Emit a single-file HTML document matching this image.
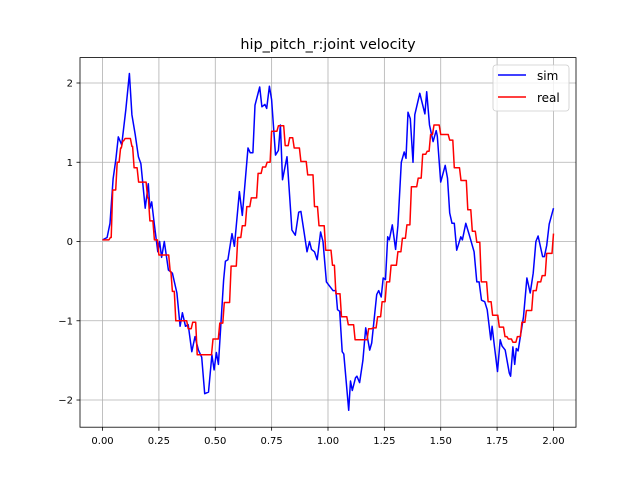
<!DOCTYPE html>
<html><head><meta charset="utf-8"><style>
body{margin:0;background:#fff;}
svg{display:block;font-family:"DejaVu Sans","Liberation Sans",sans-serif;}
</style></head><body>
<svg id="chart" width="640" height="480" viewBox="0 0 640 480" xmlns="http://www.w3.org/2000/svg">
<rect x="0" y="0" width="640" height="480" fill="#fff"/>
<text x="328" y="49" text-anchor="middle" font-size="14.4">hip_pitch_r:joint velocity</text>
<g id="grid"></g>
<g id="series"></g>
<rect x="80" y="57.6" width="496" height="369.6" fill="none" stroke="#000" stroke-width="0.8"/>
<g id="ticks"></g>
<g>
<rect x="493" y="65" width="76" height="46" rx="3" fill="#fff" fill-opacity="0.8" stroke="#ccc" stroke-width="0.8"/>
<line x1="498" y1="75" x2="526" y2="75" stroke="#0000ff" stroke-width="1.5"/>
<text x="537" y="80" font-size="12">sim</text>
<line x1="498" y1="97" x2="526" y2="97" stroke="#ff0000" stroke-width="1.5"/>
<text x="537" y="102" font-size="12">real</text>
</g>
</svg>
<script>
const xTicks=[0,0.25,0.5,0.75,1.0,1.25,1.5,1.75,2.0];
const xTickLabels=["0.00","0.25","0.50","0.75","1.00","1.25","1.50","1.75","2.00"];
const yTicks=[-2,-1,0,1,2];
const yTickLabels=["\u22122","\u22121","0","1","2"];
const simT=[0,0.02,0.033,0.047,0.059,0.07,0.085,0.103,0.119,0.13,0.145,0.159,0.17,0.189,0.203,0.21,0.218,0.229,0.245,0.253,0.262,0.274,0.292,0.31,0.33,0.344,0.354,0.368,0.38,0.396,0.41,0.425,0.44,0.453,0.47,0.485,0.495,0.505,0.514,0.537,0.545,0.556,0.574,0.585,0.607,0.62,0.645,0.655,0.667,0.676,0.697,0.707,0.72,0.728,0.74,0.75,0.767,0.78,0.789,0.798,0.818,0.84,0.855,0.87,0.88,0.895,0.907,0.918,0.927,0.94,0.952,0.967,0.978,0.993,1.022,1.035,1.042,1.052,1.063,1.07,1.092,1.1,1.108,1.122,1.128,1.14,1.155,1.167,1.185,1.194,1.216,1.225,1.236,1.245,1.255,1.265,1.272,1.285,1.3,1.31,1.325,1.338,1.346,1.355,1.365,1.377,1.385,1.407,1.43,1.438,1.45,1.466,1.48,1.485,1.5,1.52,1.53,1.54,1.55,1.56,1.571,1.589,1.596,1.611,1.625,1.648,1.66,1.67,1.681,1.695,1.706,1.722,1.728,1.738,1.752,1.764,1.772,1.786,1.804,1.81,1.82,1.828,1.835,1.843,1.867,1.882,1.897,1.91,1.922,1.932,1.952,1.96,1.97,1.981,2.0];
const simV=[0.02,0.05,0.23,0.79,1.03,1.32,1.22,1.66,2.12,1.6,1.35,1.07,0.98,0.42,0.73,0.42,0.5,0.23,-0.13,0.0,-0.2,0.0,-0.36,-0.4,-0.65,-1.07,-0.9,-1.07,-1.05,-1.39,-1.2,-1.37,-1.46,-1.92,-1.9,-1.43,-1.62,-1.4,-1.55,-0.49,-0.25,-0.23,0.1,-0.06,0.63,0.33,1.18,1.12,1.12,1.72,1.95,1.7,1.73,1.68,1.96,1.79,1.09,1.15,1.47,0.78,1.07,0.145,0.08,0.37,0.38,0.1,-0.13,0.0,-0.1,-0.13,-0.23,0.12,0.0,-0.51,-0.62,-0.62,-0.86,-0.88,-1.39,-1.42,-2.13,-1.76,-1.88,-1.72,-1.7,-1.78,-1.5,-1.09,-1.37,-1.28,-0.67,-0.62,-0.7,-0.46,-0.48,0.06,0.02,0.21,-0.1,0.2,1.0,1.13,1.05,1.63,1.55,1.0,1.6,1.87,1.61,1.89,1.47,1.26,1.4,1.33,0.75,0.96,0.8,0.36,0.23,0.23,-0.11,0.06,0.02,0.23,0.1,-0.13,-0.51,-0.51,-0.74,-0.76,-0.86,-1.24,-1.07,-1.32,-1.64,-1.24,-1.32,-1.37,-1.66,-1.7,-1.33,-1.55,-1.35,-1.38,-0.95,-0.46,-0.65,-0.4,0.0,0.07,-0.19,-0.19,-0.05,0.22,0.42];
const realT=[0,0.035,0.045,0.065,0.08,0.09,0.1,0.13,0.14,0.16,0.2,0.21,0.23,0.25,0.3,0.31,0.325,0.345,0.38,0.4,0.42,0.47,0.49,0.52,0.54,0.57,0.6,0.62,0.64,0.66,0.69,0.71,0.73,0.75,0.78,0.81,0.83,0.85,0.88,0.91,0.94,0.96,0.99,1.02,1.035,1.06,1.09,1.12,1.18,1.2,1.22,1.24,1.26,1.28,1.31,1.33,1.35,1.37,1.4,1.42,1.44,1.455,1.47,1.5,1.54,1.56,1.59,1.62,1.64,1.66,1.68,1.71,1.73,1.76,1.785,1.8,1.82,1.84,1.86,1.88,1.91,1.93,1.95,1.97,2.0];
const realV=[0.02,0.05,0.65,1.0,1.18,1.27,1.3,1.2,0.93,0.75,0.55,0.26,0.02,-0.17,-0.38,-0.63,-1.0,-1.0,-1.1,-1.02,-1.43,-1.43,-1.23,-1.03,-0.77,-0.31,0.05,0.2,0.44,0.55,0.86,0.94,1.0,1.39,1.46,1.21,1.31,1.18,1.01,0.84,0.44,0.2,-0.11,-0.3,-0.66,-0.95,-1.05,-1.24,-1.1,-1.09,-0.95,-0.76,-0.51,-0.3,-0.13,0.04,0.21,0.69,0.8,1.1,1.14,1.35,1.47,1.35,1.28,0.93,0.77,0.4,0.13,-0.01,-0.51,-0.76,-0.93,-1.08,-1.2,-1.23,-1.27,-1.2,-1.02,-0.87,-0.62,-0.51,-0.43,-0.15,0.1];
const NS="http://www.w3.org/2000/svg";
const L=80,R=576,T=57.6,B=427.2,xmin=-0.1,xmax=2.1,ymin=-2.343,ymax=2.3205;
const xs=v=>L+(v-xmin)/(xmax-xmin)*(R-L);
const ys=v=>B-(v-ymin)/(ymax-ymin)*(B-T);
function mk(tag,attrs,parent){const e=document.createElementNS(NS,tag);for(const k in attrs)e.setAttribute(k,attrs[k]);parent.appendChild(e);return e;}
const grid=document.getElementById('grid'),ticks=document.getElementById('ticks'),series=document.getElementById('series');
xTicks.forEach((v,i)=>{const x=xs(v);
 const g=mk('line',{x1:x,x2:x,y1:T,y2:B,stroke:'#b0b0b0','stroke-width':0.8},grid);
 
 
 const t=mk('line',{x1:x,x2:x,y1:B,y2:B+3.5,stroke:'#000','stroke-width':0.8},ticks);
 
 
 const lb=mk('text',{x:x,y:B+17,'text-anchor':'middle','font-size':10},ticks);lb.textContent=xTickLabels[i];
 
 
});
yTicks.forEach((v,i)=>{const y=ys(v);
 const g=mk('line',{x1:L,x2:R,y1:y,y2:y,stroke:'#b0b0b0','stroke-width':0.8},grid);
 
 
 const t=mk('line',{x1:L-3.5,x2:L,y1:y,y2:y,stroke:'#000','stroke-width':0.8},ticks);
 
 
 const lb=mk('text',{x:L-7,y:y+3.6,'text-anchor':'end','font-size':10},ticks);lb.textContent=yTickLabels[i];
 
 
});
let sp=simT.map((t,i)=>xs(t).toFixed(1)+','+ys(simV[i]).toFixed(1)).join(' ');
const sl=mk('polyline',{points:sp,fill:'none',stroke:'#0000ff','stroke-width':1.5,'stroke-linejoin':'round'},series);


let rp=[];realT.forEach((t,i)=>{rp.push(xs(t).toFixed(1)+','+ys(realV[i]).toFixed(1));if(i<realT.length-1)rp.push((xs(realT[i+1])-1.5).toFixed(1)+','+ys(realV[i]).toFixed(1));});
const rl=mk('polyline',{points:rp.join(' '),fill:'none',stroke:'#ff0000','stroke-width':1.5,'stroke-linejoin':'round'},series);


</script>
</body></html>
